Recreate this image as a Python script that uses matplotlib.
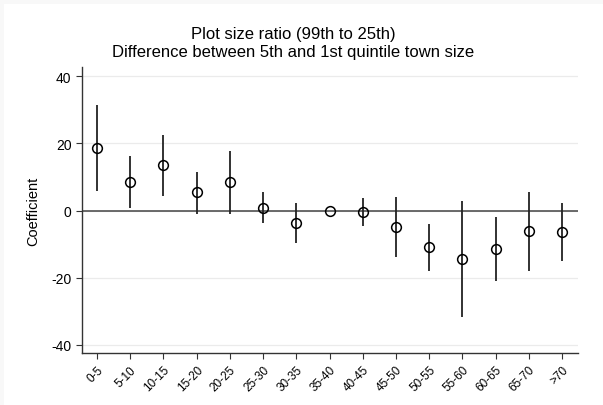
import matplotlib.pyplot as plt
from matplotlib.patches import Rectangle

plt.rcParams['font.family'] = ['Liberation Sans', 'DejaVu Sans']

groups = ['0-5', '5-10', '10-15', '15-20', '20-25', '25-30', '30-35', '35-40',
          '40-45', '45-50', '50-55', '55-60', '60-65', '65-70', '>70']
coef = [18.5, 8.5, 13.4, 5.4, 8.4, 0.8, -3.8, 0.0,
        -0.4, -4.8, -10.9, -14.4, -11.4, -6.2, -6.4]
ci_low = [5.7, 0.6, 4.3, -0.9, -1.1, -3.7, -9.7, 0.0,
          -4.5, -13.7, -17.9, -31.7, -21.0, -17.9, -15.1]
ci_high = [31.3, 16.2, 22.6, 11.5, 17.8, 5.4, 2.1, 0.0,
           3.7, 4.1, -3.9, 2.8, -2.0, 5.6, 2.3]

fig = plt.figure(figsize=(6.03, 4.06), dpi=100)
# faint frame along the top and left edge
fig.patches.append(Rectangle((0, 1 - 5 / 406), 1, 5 / 406, transform=fig.transFigure,
                             facecolor='#f8f8f8', edgecolor='none'))
fig.patches.append(Rectangle((0, 0), 4 / 603, 1, transform=fig.transFigure,
                             facecolor='#f8f8f8', edgecolor='none'))

ax = fig.add_axes([82 / 603, 1 - 354 / 406, 496 / 603, 286 / 406])

x = list(range(len(groups)))
ax.vlines(x, ci_low, ci_high, color='#222222', linewidth=1.3, zorder=2)
ax.axhline(0, color='#444444', linewidth=1.1, zorder=1)
ax.plot(x, coef, linestyle='none', marker='o', markersize=7,
        markerfacecolor='none', markeredgecolor='black', markeredgewidth=1.1, zorder=3)

ax.set_xlim(-0.45, 14.48)
ax.set_ylim(-42.4, 42.7)
ax.set_yticks([-40, -20, 0, 20, 40])
ax.set_yticklabels(['-40', '-20', '0', '20', '40'])
ax.yaxis.grid(True, color='#ebebeb', linewidth=0.9)
ax.set_axisbelow(True)
ax.set_xticks(x)
ax.set_xticklabels(groups, rotation=45, ha='right', rotation_mode='anchor', fontsize=8.5)
ax.tick_params(axis='y', labelsize=10, length=4, color='#333333')
ax.tick_params(axis='x', length=4, color='#333333')
for s in ['top', 'right']:
    ax.spines[s].set_visible(False)
for s in ['left', 'bottom']:
    ax.spines[s].set_color('#333333')
    ax.spines[s].set_linewidth(1.0)

ax.set_ylabel('Coefficient', fontsize=10.5)
ax.yaxis.set_label_coords(-0.085, 0.5)

fig.text(0.486, 1 - 35 / 406, 'Plot size ratio (99th to 25th)', ha='center', va='center', fontsize=12)
fig.text(0.486, 1 - 53 / 406, 'Difference between 5th and 1st quintile town size',
         ha='center', va='center', fontsize=12)

fig.savefig('out.png', dpi=100)
